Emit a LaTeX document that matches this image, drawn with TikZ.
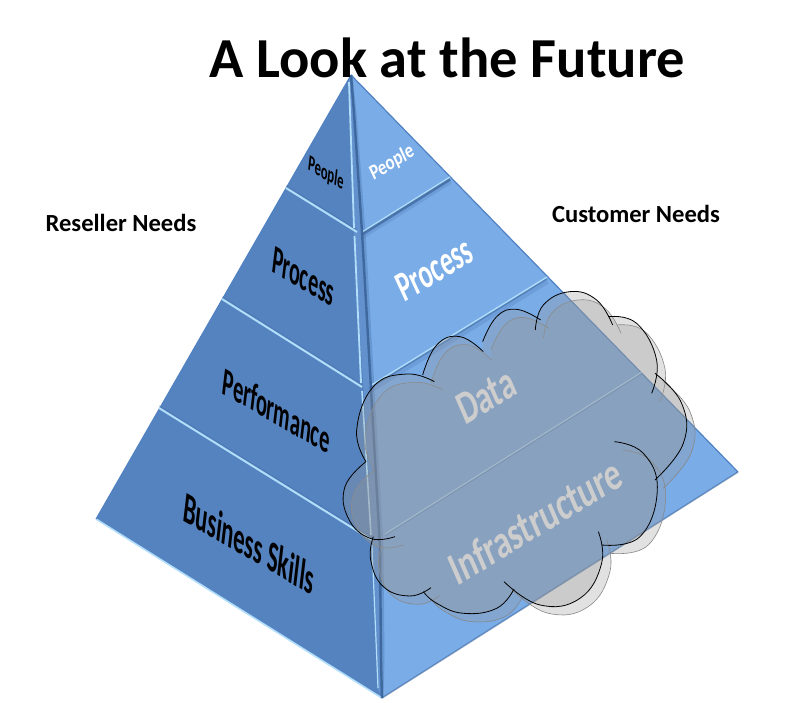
\documentclass[tikz,border=0pt]{standalone}
\usepackage{fontspec}
\setmainfont{Carlito}
\begin{document}
\begin{tikzpicture}[x=1pt,y=-1pt,
  lface/.style={fill=leftblue,draw=none},
  rface/.style={fill=rightblue,draw=none},
  hilite/.style={draw=litecol,line width=2pt},
  shade/.style={draw=darkcol,line width=3.5pt,opacity=.75},
  softshade/.style={draw=darkcol,line width=6pt,opacity=.2},
  lab/.style={inner sep=0pt,text=black},
  wlab/.style={inner sep=0pt,text=white},
  glab/.style={inner sep=0pt,text=textgray},
  cloudbody/.style={fill=cloudgray,fill opacity=.29,draw=none},
  cloudline/.style={line width=.8pt,fill=none}]
\definecolor{leftblue}{RGB}{85,131,192}
\definecolor{rightblue}{RGB}{122,172,232}
\definecolor{midblue}{RGB}{98,145,205}
\definecolor{litecol}{RGB}{176,222,250}
\definecolor{darkcol}{RGB}{62,104,158}
\definecolor{edgeblue}{RGB}{80,130,195}
\definecolor{cloudgray}{RGB}{152,152,152}
\definecolor{textgray}{RGB}{205,205,205}
\definecolor{backline}{RGB}{135,135,135}
\useasboundingbox (0,0) rectangle (786,703);
\fill[white] (0,0) rectangle (786,703);
% corners
\coordinate (apex) at (351,75);
\coordinate (lc) at (96,519);
\coordinate (bot) at (382,698);
\coordinate (rc) at (738,472);
\coordinate (l1a) at (286,188); \coordinate (l1b) at (357,232);
\coordinate (l2a) at (222,299); \coordinate (l2b) at (362,387);
\coordinate (l3a) at (159,408); \coordinate (l3b) at (372,540);
\coordinate (r1a) at (450,177); \coordinate (r1b) at (362,232);
\coordinate (r2a) at (547,277); \coordinate (r2b) at (370,386);
\coordinate (r3a) at (642,372); \coordinate (r3b) at (385,534);
% faces
\path[lface] (apex) -- (lc) -- (bot) -- cycle;
\path[rface] (apex) -- (rc) -- (bot) -- cycle;
% outer edges
\draw[draw=litecol,line width=1.6pt] (lc) -- (bot);
\draw[draw=edgeblue,line width=1pt] (apex) -- (lc);
\draw[draw=edgeblue,line width=1.2pt] (apex) -- (rc);
\draw[draw=darkcol,line width=1.5pt,opacity=.6] (rc) -- (bot);
% central ridge band
\fill[midblue] (apex) -- (349,80) -- (354,232) -- (373,547) -- (378,690) -- (bot) -- (381,660) -- (380,547) -- (362,232) -- (354,113) -- cycle;
\draw[darkcol,line width=3pt,opacity=.3] (apex) -- (355,113) -- (364,232) -- (382,547) -- (383,660) -- (bot);
% left dividers
\draw[darkcol,line width=1.5pt,opacity=.3] ([yshift=2pt]l1a) -- ([yshift=2pt]l1b);
\draw[darkcol,line width=1.5pt,opacity=.3] ([yshift=2pt]l2a) -- ([yshift=2pt]l2b);
\draw[darkcol,line width=1.5pt,opacity=.3] ([yshift=2pt]l3a) -- ([yshift=2pt]l3b);
\draw[hilite] (l1a) -- (l1b);
\draw[hilite] (l2a) -- (l2b);
\draw[hilite] (l3a) -- (l3b);
% right dividers
\draw[softshade] ([yshift=-4pt]r1a) -- ([yshift=-4pt]r1b);
\draw[shade] ([yshift=-2pt]r1a) -- ([yshift=-2pt]r1b);
\draw[hilite,line width=1.3pt] (r1a) -- (r1b);
\draw[softshade] ([yshift=-4pt]r2a) -- ([yshift=-4pt]r2b);
\draw[darkcol,line width=1.5pt,opacity=.5] ([yshift=-2pt]r2a) -- ([yshift=-2pt]r2b);
\draw[hilite,line width=1.3pt] (r2a) -- (r2b);
\draw[darkcol,line width=1.2pt,opacity=.35] ([yshift=-1.5pt]r3a) -- ([yshift=-1.5pt]r3b);
\draw[hilite,line width=1pt] (r3a) -- (r3b);
% ridge lines on top
\draw[litecol,line width=1.8pt] (349,82) -- (354,228);
\draw[litecol,line width=1.8pt] (354.5,236) -- (361,383);
\draw[litecol,line width=1.6pt] (362,391) -- (371,535);
\draw[litecol,line width=1.2pt] (372,545) -- (378,688);
\draw[darkcol,line width=2.4pt] (apex) -- (354,113) -- (362,232) -- (380,547) -- (381,660) -- (bot);
% labels on the pyramid (skewed text)
\node[lab,cm={.589,-.34,.12,1.05,(0,0)},font=\bfseries\fontsize{21}{21}\selectfont] (peopleL) at (326,174) {People};
\node[wlab,cm={.70,.428,-.42,.908,(0,0)},font=\bfseries\fontsize{21}{21}\selectfont] (peopleR) at (392,163) {People};
\node[lab,cm={.49,-.283,.12,.99,(0,0)},font=\bfseries\fontsize{40}{40}\selectfont] (procL) at (303.5,277) {Process};
\node[wlab,cm={.535,.328,-.42,.908,(0,0)},font=\bfseries\fontsize{42}{42}\selectfont] (procR) at (434.5,269) {Process};
\node[lab,cm={.525,-.303,.12,1.02,(0,0)},font=\bfseries\fontsize{38}{38}\selectfont] (perf) at (276.5,410.5) {Performance};
\node[lab,cm={.527,-.305,.12,1.02,(0,0)},font=\bfseries\fontsize{42}{42}\selectfont] (biz) at (249,543) {Business Skills};
% clouds
\def\lobeA{(78,575)(50,480)(100,350)(200,312)(283,335)}
\def\lobeB{(248,315)(290,225)(360,200)(430,245)}
\def\lobeC{(428,215)(470,140)(530,118)(602,150)}
\def\lobeD{(586,180)(610,105)(690,65)(770,90)(818,165)}
\def\lobeE{(805,140)(890,160)(950,270)(935,370)}
\def\lobeF{(945,310)(1025,400)(1030,520)(945,630)}
\def\lobeG{(823,515)(910,550)(952,660)(900,800)(785,825)}
\def\lobeH{(775,785)(785,880)(720,985)(600,1005)(492,935)}
\def\lobeI{(522,957)(470,1015)(370,1030)(290,1000)(250,965)}
\def\lobeJ{(273,953)(210,978)(130,950)(92,870)(100,800)}
\def\lobeK{(165,800)(90,805)(25,745)(15,650)(78,575)}
\newcommand{\cloudfill}{plot[smooth,tension=.75] coordinates {\lobeA} -- plot[smooth,tension=.75] coordinates {\lobeB} -- plot[smooth,tension=.75] coordinates {\lobeC} -- plot[smooth,tension=.75] coordinates {\lobeD} -- plot[smooth,tension=.75] coordinates {\lobeE} -- plot[smooth,tension=.75] coordinates {\lobeF} -- plot[smooth,tension=.75] coordinates {\lobeG} -- plot[smooth,tension=.75] coordinates {\lobeH} -- plot[smooth,tension=.75] coordinates {\lobeI} -- plot[smooth,tension=.75] coordinates {\lobeJ} -- plot[smooth,tension=.75] coordinates {\lobeK} -- cycle}
\newcommand{\cloudstroke}[1]{%
  \draw[cloudline,#1] plot[smooth,tension=.75] coordinates {\lobeA};
  \draw[cloudline,#1] plot[smooth,tension=.75] coordinates {\lobeB};
  \draw[cloudline,#1] plot[smooth,tension=.75] coordinates {\lobeC};
  \draw[cloudline,#1] plot[smooth,tension=.75] coordinates {\lobeD};
  \draw[cloudline,#1] plot[smooth,tension=.75] coordinates {\lobeE};
  \draw[cloudline,#1] plot[smooth,tension=.75] coordinates {\lobeF};
  \draw[cloudline,#1] plot[smooth,tension=.75] coordinates {\lobeG};
  \draw[cloudline,#1] plot[smooth,tension=.75] coordinates {\lobeH};
  \draw[cloudline,#1] plot[smooth,tension=.75] coordinates {\lobeI};
  \draw[cloudline,#1] plot[smooth,tension=.75] coordinates {\lobeJ};
  \draw[cloudline,#1] plot[smooth,tension=.75] coordinates {\lobeK};}
\begin{scope}[shift={(348.3,278.3)},x=.3333pt,y=-.3333pt]
  \path[cloudbody] \cloudfill;
  \cloudstroke{backline,line width=.6pt}
\end{scope}
\begin{scope}[shift={(340,270)},x=.3333pt,y=-.3333pt]
  \path[cloudbody] \cloudfill;
  \cloudstroke{black}
\end{scope}
\node[glab,cm={.60,.368,-.40,.917,(0,0)},font=\bfseries\fontsize{46}{46}\selectfont] (data) at (486,396) {Data};
\node[glab,cm={.635,.388,-.40,.917,(0,0)},font=\bfseries\fontsize{46}{46}\selectfont] (infra) at (535,521) {Infrastructure};
% titles
\node[lab,font=\bfseries\fontsize{56.5}{56.5}\selectfont] (title) at (447,58) {A Look at the Future};
\node[lab,font=\bfseries\fontsize{24.6}{24.6}\selectfont] (reseller) at (121,223) {Reseller Needs};
\node[lab,font=\bfseries\fontsize{24.6}{24.6}\selectfont] (customer) at (636,214) {Customer Needs};
\end{tikzpicture}
\end{document}
